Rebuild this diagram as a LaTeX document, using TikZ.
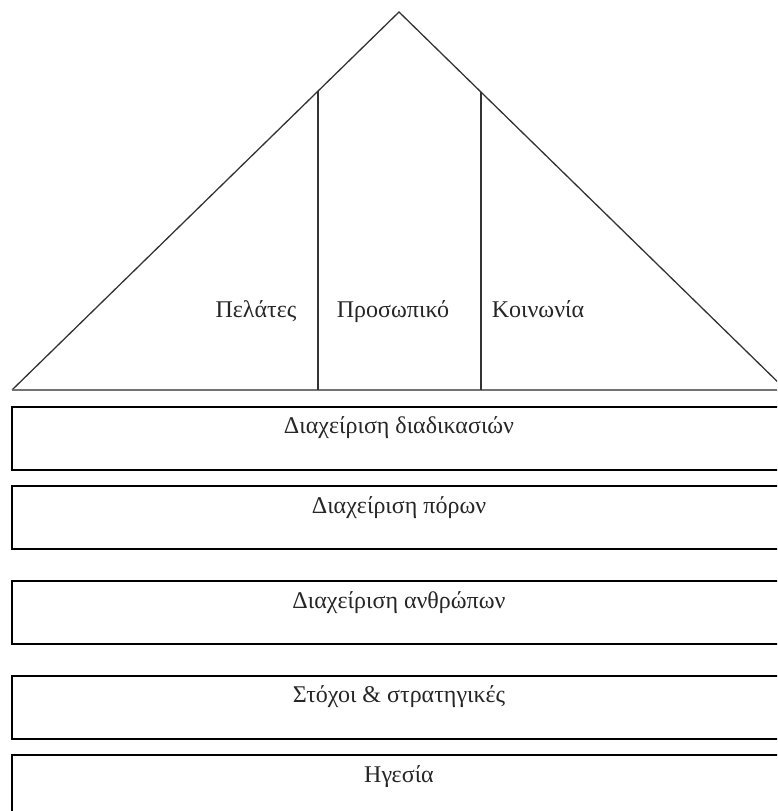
\documentclass[tikz,border=0pt]{standalone}
\usepackage{fontspec}
\setmainfont{Liberation Serif}
\begin{document}
\begin{tikzpicture}[x=1pt,y=-1pt,
  tri/.style={draw=black!80, line width=1.3pt},
  base/.style={draw=black!55, line width=2.2pt},
  layer/.style={draw=black, line width=1.5pt},
  lbl/.style={font=\fontsize{24}{28}\selectfont, inner sep=0pt, text=black!85}]
\useasboundingbox (0,0) rectangle (777,811);
\clip (0,0) rectangle (777,811);
% triangle
\coordinate (apex) at (399,12);
\coordinate (bl) at (12,390);
\coordinate (br) at (786,390);
\coordinate (lt) at (318,91);
\coordinate (lb) at (318,390);
\coordinate (rt) at (481,92);
\coordinate (rb) at (481,390);
\draw[tri] (bl) -- (apex) -- (br);
\draw[base] (bl) -- (br);
\draw[tri] (lt) -- (lb);
\draw[tri] (rt) -- (rb);
\node[lbl, anchor=base] (pel) at (256,317) {Πελάτες};
\node[lbl, anchor=base] (pros) at (393,317) {Προσωπικό};
\node[lbl, anchor=base] (koin) at (538,317) {Κοινωνία};
% layers
\draw[layer] (12,407) rectangle (800,470);
\draw[layer] (12,486) rectangle (800,549);
\draw[layer] (12,581) rectangle (800,644);
\draw[layer] (12,676) rectangle (800,739);
\draw[layer] (12,755) rectangle (800,830);
\node[lbl] (l1) at (399,428) {Διαχείριση διαδικασιών};
\node[lbl] (l2) at (399,508) {Διαχείριση πόρων};
\node[lbl] (l3) at (399,603) {Διαχείριση ανθρώπων};
\node[lbl] (l4) at (399,697) {Στόχοι \& στρατηγικές};
\node[lbl] (l5) at (399,777) {Ηγεσία};
\end{tikzpicture}
\end{document}
